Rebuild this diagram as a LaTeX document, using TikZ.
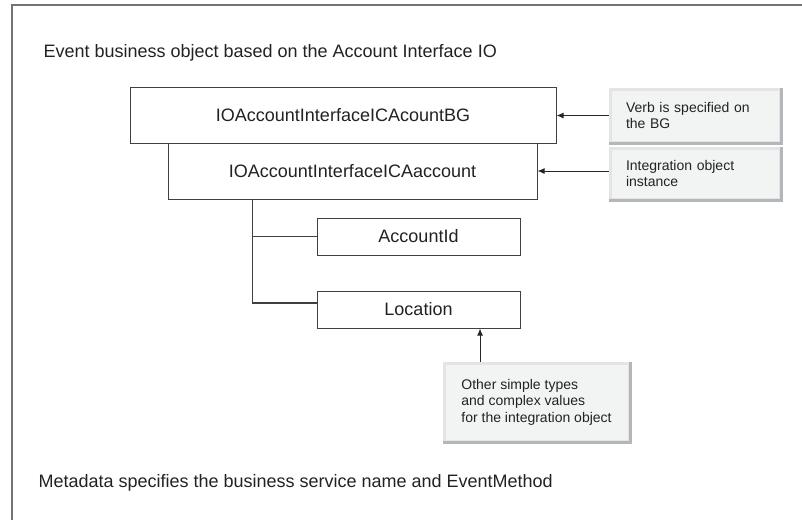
\documentclass[tikz,border=0pt]{standalone}
\usepackage{fontspec}
\setmainfont{Liberation Sans}
\usetikzlibrary{arrows.meta}

\definecolor{inkgray}{HTML}{222222}
\definecolor{notefill}{HTML}{F2F4F4}
\definecolor{notelight}{HTML}{E2E4E5}
\definecolor{notedark}{HTML}{B4B6B9}

\tikzset{
  obj/.style={draw=black!75, line width=1, fill=white, text=inkgray,
    font=\fontsize{18}{22}\selectfont, inner sep=0},
  note/.style={draw=notelight, line width=3, fill=notefill, text=inkgray,
    font=\fontsize{14}{16.5}\selectfont, align=left, inner sep=0},
  shade/.style={draw=notedark, line width=3},
  ptr/.style={-{Latex[length=7,width=6]}, line width=1, black!85},
  tree/.style={line width=1.2, black!75}
}

\begin{document}
\begin{tikzpicture}[x=1pt, y=-1pt]
  \useasboundingbox (0,0) rectangle (802,520);
  \draw[line width=1.3, black!55] (802,5) -- (12,5) -- (12,520);

  % headings
  \node[anchor=west, text=inkgray, font=\fontsize{18}{22}\selectfont] (title) at (40,53)
    {Event business object based on the Account Interface IO};
  \node[anchor=west, text=inkgray, font=\fontsize{18}{22}\selectfont] (meta) at (35,483)
    {Metadata specifies the business service name and EventMethod};

  % objects
  \node[obj, minimum width=426, minimum height=56] (bg) at (343,115) {IOAccountInterfaceICAcountBG};
  \node[obj, minimum width=369, minimum height=56] (acct) at (352.5,171) {IOAccountInterfaceICAaccount};
  \node[obj, minimum width=203, minimum height=37] (accid) at (418.5,236.5) {AccountId};
  \node[obj, minimum width=203, minimum height=37] (loc) at (418.5,309.5) {Location};

  % tree
  \coordinate (trunk) at ([xshift=85]acct.south west);
  \draw[tree] (trunk) |- (accid.west);
  \draw[tree] (trunk) |- ([yshift=6.5]loc.west);

  % notes
  \node[note, minimum width=170, minimum height=53, text width=138] (verb) at (695,115.5)
    {Verb is specified on\\the BG};
  \node[note, minimum width=170, minimum height=51, text width=138] (inst) at (695,173.5)
    {Integration object\\instance};
  \node[note, minimum width=185, minimum height=78] (other) at (536.5,402)
    {Other simple types\\and complex values\\for the integration object};
  \foreach \n in {verb, inst, other}
    \draw[shade] (\n.north east) -- (\n.south east) -- (\n.south west);

  % pointers
  \draw[ptr] (verb.west) -- (verb.west -| bg.east);
  \draw[ptr] (acct.east -| inst.west) -- (acct.east);
  \coordinate (locpin) at ([xshift=61.5]loc.south);
  \draw[ptr] (other.north -| locpin) -- (locpin);
\end{tikzpicture}
\end{document}
